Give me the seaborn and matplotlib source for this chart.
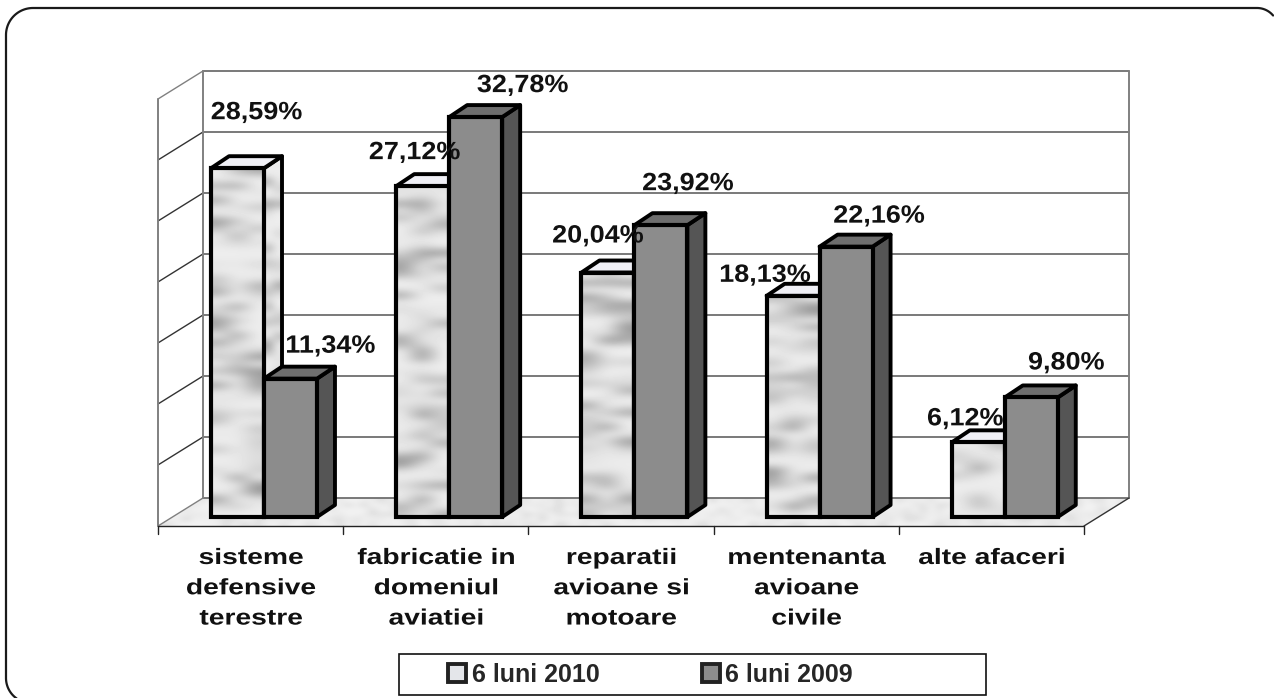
import numpy as np
import pandas as pd
import matplotlib
matplotlib.use('Agg')
import matplotlib.pyplot as plt
import seaborn as sns
from matplotlib.patches import Polygon, Rectangle, Patch
from matplotlib.patheffects import AbstractPathEffect
from matplotlib.transforms import Affine2D

## Dados
categorii = ['sisteme\ndefensive\nterestre', 'fabricatie in\ndomeniul\naviatiei',
             'reparatii\navioane si\nmotoare', 'mentenanta\navioane\ncivile', 'alte afaceri']
val_2010 = [28.59, 27.12, 20.04, 18.13, 6.12]
val_2009 = [11.34, 32.78, 23.92, 22.16, 9.80]
serii = ['6 luni 2010', '6 luni 2009']
y_ticks = [0, 5, 10, 15, 20, 25, 30, 35]

## deslocamento dos rotulos em relacao ao topo de cada barra (pixels)
off_2010 = [(19, 56), (-8, 34), (-10, 37), (-28, 21), (-13, 24)]
off_2009 = [(40, 33), (47, 32), (27, 42), (33, 31), (35, 35)]

PX_X = 185.2   # pixels por categoria
PX_Y = 12.2    # pixels por unidade
X0, Y0 = 264, 517   # centro da 1a categoria e base das barras
DX, DY = 18, 12     # profundidade das barras
WX, WY = 45, 28     # profundidade do grafico


def X(px):
    return (px - X0) / PX_X


def Y(py):
    return (Y0 - py) / PX_Y


def P(px, py):
    return (X(px), Y(py))


class StretchX(AbstractPathEffect):
    ## o texto original e bem mais largo que a fonte
    def __init__(self, k):
        self.k = k

    def draw_path(self, renderer, gc, tpath, affine, rgbFace=None):
        box = affine.transform_path(tpath).get_extents()
        cx = (box.x0 + box.x1) / 2
        t = affine + Affine2D().translate(-cx, 0).scale(self.k, 1).translate(cx, 0)
        renderer.draw_path(gc, tpath, t, rgbFace)


sns.set_theme(style='white')
plt.rcParams['font.family'] = ['Liberation Sans', 'DejaVu Sans']

df = pd.DataFrame({
    'categorie': categorii * 2,
    'valoare': val_2010 + val_2009,
    'perioada': [serii[0]] * 5 + [serii[1]] * 5,
})

fig = plt.figure(figsize=(12.74, 6.98), dpi=100)
ax = fig.add_axes([0, 0, 1, 1])

sns.barplot(data=df, x='categorie', y='valoare', hue='perioada', palette=['#e8ebef', '#8c8c8c'],
            width=0.572, gap=0, saturation=1, edgecolor='black', linewidth=3.0, legend=False, ax=ax)

## Moldura (sai da imagem embaixo e a direita)
def canto(cx, cy, r, a0, a1):
    a = np.radians(np.linspace(a0, a1, 30))
    return cx + r * np.cos(a), cy - r * np.sin(a)


c1x, c1y = canto(33, 35, 27, 180, 90)
c2x, c2y = canto(1257, 29, 21, 90, 40)
c3x, c3y = canto(31, 678, 25, 180, 235)
ax.plot(X(np.r_[c3x[::-1], c1x, c2x]), Y(np.r_[c3y[::-1], c1y, c2y]), color='#1a1a1a', lw=1.6, zorder=1)

## Chao
fl = [P(158, 526), P(1084, 526), P(1129, 498), P(203, 498)]
floor = Polygon(fl, fc='#ecece8', ec='none', zorder=1.1)
ax.add_patch(floor)
rng = np.random.default_rng(7)
im = ax.imshow(0.95 - 0.10 * rng.random((6, 120)) ** 2, cmap='gray', vmin=0, vmax=1, aspect='auto',
               interpolation='bicubic', extent=(X(158), X(1129), Y(526), Y(498)), zorder=1.2)
im.set_clip_path(floor)

## Paredes e grade
GR = '#808080'
for t in y_ticks:
    yb = 498 - t * PX_Y
    ax.plot([X(203), X(1129)], [Y(yb)] * 2, color='#6e6e6e', lw=1.3, zorder=1.25)
    ax.plot([X(158), X(203)], [Y(yb + WY), Y(yb)], color='#333333' if 0 < t < 35 else GR, lw=1, zorder=1.3)
ax.plot([X(203), X(203)], [Y(498), Y(71)], color=GR, lw=1.4, zorder=1.3)
ax.plot([X(158), X(158)], [Y(526), Y(99)], color=GR, lw=1.4, zorder=1.3)
ax.plot([X(1129), X(1129)], [Y(498), Y(71)], color=GR, lw=1.4, zorder=1.3)
ax.plot([X(1084), X(1129)], [Y(526), Y(498)], color='#333333', lw=1, zorder=1.3)
ax.plot([X(158), X(1084)], [Y(526), Y(526)], color='#222222', lw=1, zorder=1.3)
for i in range(6):
    xt = 158 + i * PX_X
    ax.plot([X(xt), X(xt)], [Y(526), Y(534)], color='#222222', lw=1, zorder=1.3)


def marmore(lin, col):
    return 0.93 - 0.34 * rng.random((lin, col)) ** 3


## Faces laterais e de topo das barras
ddx, ddy = DX / PX_X, DY / PX_Y
light, dark = ax.containers[0], ax.containers[1]
for bars, zb, top_c, side_c in [(light, 2.0, '#f0f0f6', '#e4e6ea'), (dark, 3.0, '#6e6e6e', '#555555')]:
    for b in bars:
        x0, w, h = b.get_x(), b.get_width(), b.get_height()
        x1 = x0 + w
        side = Polygon([(x1, 0), (x1 + ddx, ddy), (x1 + ddx, h + ddy), (x1, h)], fc=side_c, ec='black',
                       lw=2.8, joinstyle='round', zorder=zb + 0.1)
        top = Polygon([(x0, h), (x0 + ddx, h + ddy), (x1 + ddx, h + ddy), (x1, h)], fc=top_c, ec='black',
                      lw=2.8, joinstyle='round', zorder=zb + 0.1)
        ax.add_patch(side)
        ax.add_patch(top)
        b.set_zorder(zb + 0.5)
        if bars is light:
            ## textura na frente e na lateral
            lin = max(3, int(h * PX_Y / 7))
            ax.imshow(marmore(lin, 3), cmap='gray', vmin=0, vmax=1, aspect='auto', interpolation='bicubic',
                      extent=(x0, x1, 0, h), zorder=zb + 0.2)
            im2 = ax.imshow(marmore(lin, 2), cmap='gray', vmin=0, vmax=1, aspect='auto', interpolation='bicubic',
                            extent=(x1, x1 + ddx, 0, h + ddy), zorder=zb + 0.05)
            im2.set_clip_path(Polygon(side.get_xy(), transform=ax.transData))
            side.set_facecolor('none')
            b.set_facecolor('none')

## Rotulos
for bars, vals, offs in [(light, val_2010, off_2010), (dark, val_2009, off_2009)]:
    for b, v, (ox, oy) in zip(bars, vals, offs):
        ax.annotate(f'{v:.2f}'.replace('.', ',') + '%', (b.get_x() + b.get_width() / 2, v),
                    xytext=(ox, oy), textcoords='offset pixels', ha='center', va='center',
                    fontsize=18, fontweight='bold', color='#111111', zorder=6,
                    path_effects=[StretchX(1.08)])

## Categorias
for i, c in enumerate(categorii):
    ax.text(X(251 + i * PX_X), Y(548), c, ha='center', va='top', fontsize=16, fontweight='bold',
            color='#111111', linespacing=1.58, zorder=6, path_effects=[StretchX(1.27)])

## Legenda
ax.add_patch(Rectangle(P(399, 695), X(986) - X(399), Y(654) - Y(695), fc='white', ec='#111111', lw=1.2, zorder=5))
handles = [Patch(fc='#e4e6ea', ec='#222222', lw=2.8), Patch(fc='#8c8c8c', ec='#222222', lw=2.8)]
leg = ax.legend(handles, serii, ncol=2, loc='center left', bbox_to_anchor=(448 / 1274, 1 - 675 / 698),
                bbox_transform=fig.transFigure, frameon=False, borderpad=0, borderaxespad=0,
                handlelength=0.72, handleheight=0.72, handletextpad=0.22, columnspacing=4.1,
                prop={'size': 18, 'weight': 'bold'})
leg.set_zorder(7)

ax.set_xlim(X(0), X(1274))
ax.set_ylim(Y(698), Y(0))
ax.axis('off')

fig.savefig('out.png', dpi=100)
